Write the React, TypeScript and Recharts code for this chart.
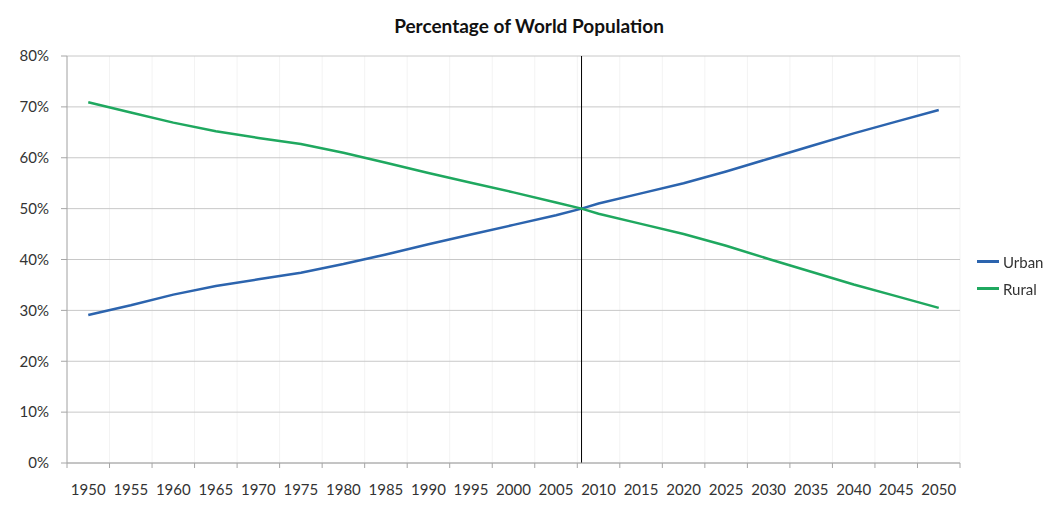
import { LineChart, Line, XAxis, YAxis, CartesianGrid, ReferenceLine, Legend } from "recharts";

// years that carry a data point (2008 is where the two curves cross)
const years = [
  1950, 1955, 1960, 1965, 1970, 1975, 1980, 1985, 1990, 1995, 2000, 2005, 2008,
  2010, 2015, 2020, 2025, 2030, 2035, 2040, 2045, 2050,
];
const urban = [
  29.1, 31.0, 33.1, 34.8, 36.1, 37.4, 39.1, 41.0, 43.0, 44.9, 46.8, 48.7, 50.0,
  51.0, 53.0, 55.0, 57.3, 59.8, 62.3, 64.8, 67.1, 69.4,
];
const rural = [
  70.9, 68.9, 66.9, 65.2, 63.9, 62.7, 61.0, 59.0, 57.0, 55.1, 53.2, 51.2, 50.0,
  49.0, 47.0, 45.0, 42.7, 40.1, 37.6, 35.1, 32.8, 30.5,
];
const tickYears = [
  1950, 1955, 1960, 1965, 1970, 1975, 1980, 1985, 1990, 1995, 2000, 2005, 2010,
  2015, 2020, 2025, 2030, 2035, 2040, 2045, 2050,
];
const percentTicks = [0, 10, 20, 30, 40, 50, 60, 70, 80];
const markerYear = 2008;

const data = years.map((year, i) => ({ year, urban: urban[i], rural: rural[i] }));

// Excel-style category axis: tick marks sit between the labels
const boundaries = [...tickYears.map((y) => y - 2.5), tickYears[tickYears.length - 1] + 2.5];

const W = 1049;
const H = 525;
const LEFT = 67;
const RIGHT = 89;
const HALF_CAT = (W - LEFT - RIGHT) / tickYears.length / 2;

const FONT = "Lato, 'Open Sans', sans-serif";
const URBAN = "#2c64ae";
const RURAL = "#1fa85f";

function YearTick({ x, y, payload }: any) {
  const label = payload.value + 2.5;
  if (label > tickYears[tickYears.length - 1]) return null;
  return (
    <text x={x + HALF_CAT} y={y + 19} textAnchor="middle" fontSize={15} fill="#333" fontFamily={FONT}>
      {label}
    </text>
  );
}

function LegendBox() {
  const items = [
    { name: "Urban", color: URBAN },
    { name: "Rural", color: RURAL },
  ];
  return (
    <div style={{ fontFamily: FONT, fontSize: 15, color: "#333" }}>
      {items.map((it) => (
        <div key={it.name} style={{ display: "flex", alignItems: "center", height: 27 }}>
          <span style={{ width: 22, height: 3, background: it.color, marginRight: 4 }} />
          <span>{it.name}</span>
        </div>
      ))}
    </div>
  );
}

export default function App() {
  return (
    <div style={{ position: "fixed", left: 0, top: 0, width: W, height: H, background: "#fff" }}>
      <div
        style={{
          position: "absolute",
          left: 0,
          top: 14,
          width: 1058,
          textAlign: "center",
          fontFamily: FONT,
          fontWeight: 700,
          fontSize: 19,
          color: "#111",
        }}
      >
        Percentage of World Population
      </div>
      <LineChart width={W} height={H} data={data} margin={{ top: 56, right: RIGHT, left: 0, bottom: 22 }}>
        <CartesianGrid horizontal={false} stroke="#f3f3f3" />
        <CartesianGrid vertical={false} stroke="#c8c8c8" />
        <XAxis
          dataKey="year"
          type="number"
          domain={[boundaries[0], boundaries[boundaries.length - 1]]}
          ticks={boundaries}
          interval={0}
          height={40}
          tickSize={5}
          tickMargin={8}
          stroke="#a6a6a6"
          tick={<YearTick />}
        />
        <YAxis
          domain={[0, 80]}
          ticks={percentTicks}
          width={LEFT}
          tickSize={6}
          tickMargin={12}
          stroke="#a6a6a6"
          tickFormatter={(v) => `${v}%`}
          tick={{ fontSize: 15, fill: "#333", fontFamily: FONT }}
        />
        <ReferenceLine x={markerYear} stroke="#000" strokeWidth={1} />
        <Line
          type="linear"
          dataKey="urban"
          name="Urban"
          stroke={URBAN}
          strokeWidth={2.5}
          dot={false}
          isAnimationActive={false}
        />
        <Line
          type="linear"
          dataKey="rural"
          name="Rural"
          stroke={RURAL}
          strokeWidth={2.5}
          dot={false}
          isAnimationActive={false}
        />
        <Legend
          layout="vertical"
          align="center"
          verticalAlign="middle"
          content={<LegendBox />}
          wrapperStyle={{ left: 977, top: 248, width: 80 }}
        />
      </LineChart>
    </div>
  );
}
